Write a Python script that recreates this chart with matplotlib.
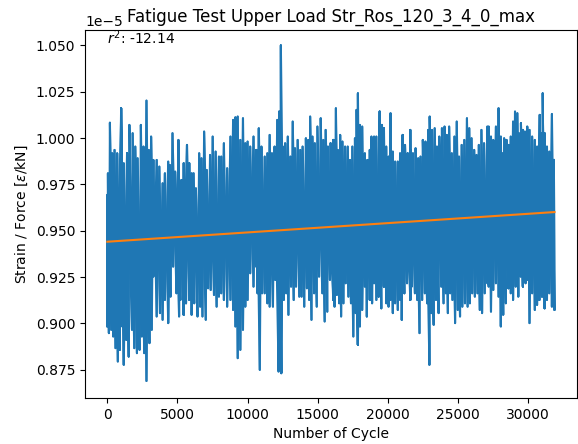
import numpy as np
from matplotlib import pyplot as plt

# readings of the signal envelope (Strain / Force, in units of 1e-5)
upper_cycles = [0, 44, 185, 350, 514, 702, 983, 1171, 1406, 1570, 1805, 1992, 2157, 2391, 2579, 2790, 2955, 3119,
                3283, 3518, 3706, 3940, 4105, 4339, 4457, 4645, 4832, 5067,
                5138, 5303, 5443, 5678, 5842, 6007, 6148, 6312, 6547, 6711, 6899, 7086, 7321, 7509, 7720, 7955,
                8119, 8307, 8541, 8776, 8964, 9128, 9293, 9480, 9668, 9832, 9997, 10184, 10419, 10607,
                10631, 10796, 10983, 11218, 11406, 11570, 11734, 11922, 12110, 12251, 12368, 12509, 12673, 12861,
                13049, 13213, 13377, 13565, 13753, 13917, 14152, 14316, 14457, 14621, 14786, 14973, 15208, 15396,
                15560, 15724, 15912, 16100,
                16124, 16289, 16429, 16594, 16758, 16946, 17134, 17298, 17462, 17650, 17767, 17861, 18002, 18166,
                18354, 18542, 18706, 18823, 19011, 19175, 19410, 19574, 19715, 19880, 20044, 20185, 20349, 20513,
                20701, 20865, 21053, 21217, 21405, 21593,
                21617, 21782, 21969, 22157, 22321, 22486, 22674, 22861, 22979, 23143, 23331, 23495, 23659, 23847,
                24035, 24199, 24363, 24551, 24739, 24903, 25067, 25255, 25443, 25631, 25795, 25959, 26147, 26311,
                26476, 26663, 26851, 27086,
                27180, 27344, 27508, 27696, 27884, 28048, 28166, 28283, 28447, 28588, 28752, 28917, 29057, 29222,
                29339, 29480, 29621, 29761, 29926, 30090, 30278, 30466, 30630, 30818, 30935, 31029, 31170, 31334,
                31498, 31686, 31827]
upper_values = [0.9693, 0.9810, 1.0083, 0.9918, 0.9936, 0.9918, 1.0161, 0.9864, 0.9918, 1.0071, 1.0026, 0.9954,
                0.9891, 1.0071, 0.9954, 1.0202, 0.9936, 1.0008, 0.9882, 0.9882, 0.9846, 0.9756, 0.9810, 0.9873,
                0.9855, 1.0026, 0.9819, 0.9990,
                0.9774, 0.9774, 0.9864, 0.9963, 0.9864, 0.9810, 0.9810, 0.9729, 0.9918, 0.9891, 1.0035, 0.9828,
                0.9909, 1.0008, 0.9927, 0.9900, 0.9900, 0.9972, 0.9837, 1.0008, 1.0098, 1.0112, 1.0116, 0.9990,
                1.0107, 0.9972, 0.9981, 0.9954, 1.0008, 0.9936,
                0.9936, 1.0053, 0.9954, 0.9900, 0.9918, 1.0017, 0.9918, 0.9954, 1.0098, 1.0143, 1.0500, 0.9954,
                0.9972, 1.0008, 0.9900, 1.0089, 0.9945, 0.9990, 0.9936, 0.9954, 0.9999, 0.9990, 1.0116, 1.0008,
                0.9972, 1.0062, 1.0107, 0.9990, 1.0044, 0.9954, 0.9972, 0.9990,
                0.9990, 1.0161, 0.9936, 1.0017, 0.9981, 0.9954, 0.9954, 0.9882, 0.9954, 0.9999, 1.0152, 1.0241,
                1.0071, 1.0062, 0.9918, 0.9882, 0.9936, 1.0008, 1.0008, 1.0008, 1.0143, 1.0071, 1.0053, 0.9954,
                0.9900, 1.0134, 0.9927, 0.9873, 0.9873, 0.9918, 1.0017, 0.9963, 0.9918, 1.0044,
                0.9936, 0.9918, 0.9945, 0.9891, 0.9900, 0.9990, 0.9981, 1.0044, 1.0116, 1.0044, 1.0053, 0.9954,
                1.0008, 1.0053, 1.0062, 1.0017, 1.0062, 0.9918, 1.0008, 1.0089, 0.9900, 0.9963, 0.9990, 1.0107,
                1.0053, 0.9999, 0.9936, 0.9909, 0.9963, 1.0044, 0.9972, 1.0062,
                1.0062, 1.0008, 0.9990, 1.0062, 1.0161, 1.0008, 0.9918, 0.9999, 0.9990, 0.9963, 1.0008, 1.0089,
                1.0143, 1.0134, 1.0026, 1.0080, 1.0044, 1.0035, 1.0062, 1.0044, 1.0008, 0.9990, 0.9954, 1.0125,
                1.0026, 1.0241, 1.0026, 0.9954, 0.9927, 1.0130, 0.9882]

lower_cycles = [0, 115, 279, 420, 584, 748, 889, 1077, 1171, 1359, 1523, 1758, 1922, 2110, 2297, 2462, 2626, 2790,
                3002, 3166, 3283, 3518, 3753, 3940, 4105, 4339, 4504, 4691, 4926, 5114,
                5209, 5443, 5608, 5842, 6007, 6195, 6429, 6617, 6781, 7016, 7180, 7368, 7603, 7790, 7955, 8119,
                8307, 8541, 8776, 8964, 9128, 9293, 9480, 9668, 9832, 9997, 10184, 10419, 10607,
                10702, 10866, 11030, 11218, 11406, 11570, 11805, 11969, 12204, 12392, 12579, 12744, 12908, 13096,
                13283, 13448, 13682, 13847, 14035, 14222, 14387, 14551, 14739, 14926, 15091, 15325, 15490, 15677,
                15865, 16100,
                16195, 16359, 16523, 16664, 16828, 16993, 17181, 17368, 17533, 17697, 17861, 18002, 18166, 18354,
                18495, 18706, 18870, 19011, 19175, 19340, 19527, 19715, 19880, 20044, 20185, 20349, 20513, 20701,
                20865, 20983, 21170, 21358, 21593,
                21688, 21922, 22087, 22251, 22439, 22627, 22791, 22955, 23096, 23260, 23425, 23612, 23800, 23964,
                24129, 24269, 24434, 24598, 24786, 24974, 25138, 25302, 25490, 25678, 25842, 26006, 26194, 26382,
                26546, 26710, 26898, 27086,
                27180, 27344, 27508, 27696, 27884, 28048, 28212, 28400, 28588, 28752, 28917, 29104, 29292, 29456,
                29621, 29808, 29926, 30090, 30278, 30466, 30630, 30794, 30982, 31170, 31334, 31498, 31686, 31870]
lower_values = [0.8984, 0.8948, 0.8966, 0.8930, 0.8867, 0.8795, 0.8858, 0.8984, 0.8777, 0.8912, 0.8822, 0.8966,
                0.8867, 0.8840, 0.8858, 0.8930, 0.8840, 0.8690, 0.8894, 0.8966, 0.9253, 0.9038, 0.9056, 0.9020,
                0.9127, 0.9002, 0.9145, 0.9307, 0.9163, 0.9038,
                0.9127, 0.9047, 0.9109, 0.9127, 0.9047, 0.9109, 0.9038, 0.9091, 0.9038, 0.9020, 0.9190, 0.9181,
                0.9154, 0.9091, 0.9145, 0.9163, 0.9127, 0.9091, 0.9127, 0.9073, 0.8984, 0.8813, 0.8858, 0.8966,
                0.9091, 0.9127, 0.9271, 0.9199, 0.9307,
                0.9163, 0.8750, 0.9163, 0.9163, 0.9109, 0.9091, 0.9091, 0.9235, 0.8741, 0.8732, 0.9127, 0.9163,
                0.9047, 0.9199, 0.9127, 0.9199, 0.9145, 0.9145, 0.9091, 0.9190, 0.9127, 0.9020, 0.9163, 0.9091,
                0.9253, 0.9163, 0.9011, 0.9064, 0.9235, 0.9127,
                0.9091, 0.9154, 0.9109, 0.9038, 0.9109, 0.9217, 0.9145, 0.9109, 0.8930, 0.9056, 0.8885, 0.8984,
                0.9073, 0.9199, 0.9038, 0.9127, 0.9109, 0.9217, 0.9127, 0.9145, 0.9082, 0.9199, 0.9109, 0.9091,
                0.9127, 0.9056, 0.9109, 0.9073, 0.9127, 0.9020, 0.9163, 0.9217, 0.9127,
                0.9199, 0.9163, 0.9127, 0.8948, 0.9127, 0.9163, 0.9109, 0.8777, 0.9056, 0.8993, 0.9127, 0.9056,
                0.9199, 0.9109, 0.9163, 0.9056, 0.9163, 0.9127, 0.9002, 0.9073, 0.9038, 0.9091, 0.9109, 0.9091,
                0.9109, 0.9163, 0.9145, 0.9163, 0.9073, 0.9056, 0.9163, 0.9217,
                0.9199, 0.9064, 0.9181, 0.9217, 0.9145, 0.8984, 0.9047, 0.9109, 0.9190, 0.9163, 0.9127, 0.9199,
                0.9145, 0.9253, 0.9199, 0.9217, 0.9235, 0.9002, 0.9163, 0.9073, 0.9100, 0.9127, 0.9145, 0.9082,
                0.9127, 0.9163, 0.9091, 0.9073]

# linear fit (value at first and last cycle)
fit_cycles = [0, 31870]
fit_values = [0.9441, 0.9601]

r_squared = -12.14
scale = 1e-5


def swing_path(up_x, up_y, lo_x, lo_y):
    # merge both envelopes by cycle; where two readings of the same side
    # follow each other, revisit the nearest reading of the other side
    up_x, up_y, lo_x, lo_y = map(np.asarray, (up_x, up_y, lo_x, lo_y))
    pts = sorted([(x, y, 0) for x, y in zip(up_x, up_y)] + [(x, y, 1) for x, y in zip(lo_x, lo_y)],
                 key=lambda p: (p[0], p[2]))
    path_x, path_y = [], []
    last_side = None
    for x, y, side in pts:
        if side == last_side:
            ox, oy = (lo_x, lo_y) if side == 0 else (up_x, up_y)
            k = np.argmin(np.abs(ox - x))
            path_x.append(ox[k])
            path_y.append(oy[k])
        path_x.append(x)
        path_y.append(y)
        last_side = side
    return np.array(path_x), np.array(path_y)


cycles, values = swing_path(upper_cycles, upper_values, lower_cycles, lower_values)
# second pass with each top/bottom pair swapped, so both diagonals are drawn
n = len(cycles) // 2 * 2
swap = np.arange(n) ^ 1

fig = plt.figure(figsize=(5.78, 4.44), dpi=100)
ax = fig.gca()
ax.plot(cycles[swap], values[swap] * scale, color='#1f77b4', linewidth=1.5)
ax.plot(cycles, values * scale, color='#1f77b4', linewidth=1.5)
ax.plot(fit_cycles, np.array(fit_values) * scale, color='#ff7f0e', linewidth=1.5)
ax.text(0.045, 0.962, f'$r^2$: {r_squared}', transform=ax.transAxes)
ax.set_ylim(0.8599 * scale, 1.0582 * scale)
plt.title('Fatigue Test Upper Load Str_Ros_120_3_4_0_max')
plt.xlabel('Number of Cycle')
plt.ylabel(r'Strain / Force [$\varepsilon$/kN]')
plt.subplots_adjust(left=0.147, right=0.998, top=0.932, bottom=0.104)
plt.savefig('out.png', dpi=100)
plt.close()
